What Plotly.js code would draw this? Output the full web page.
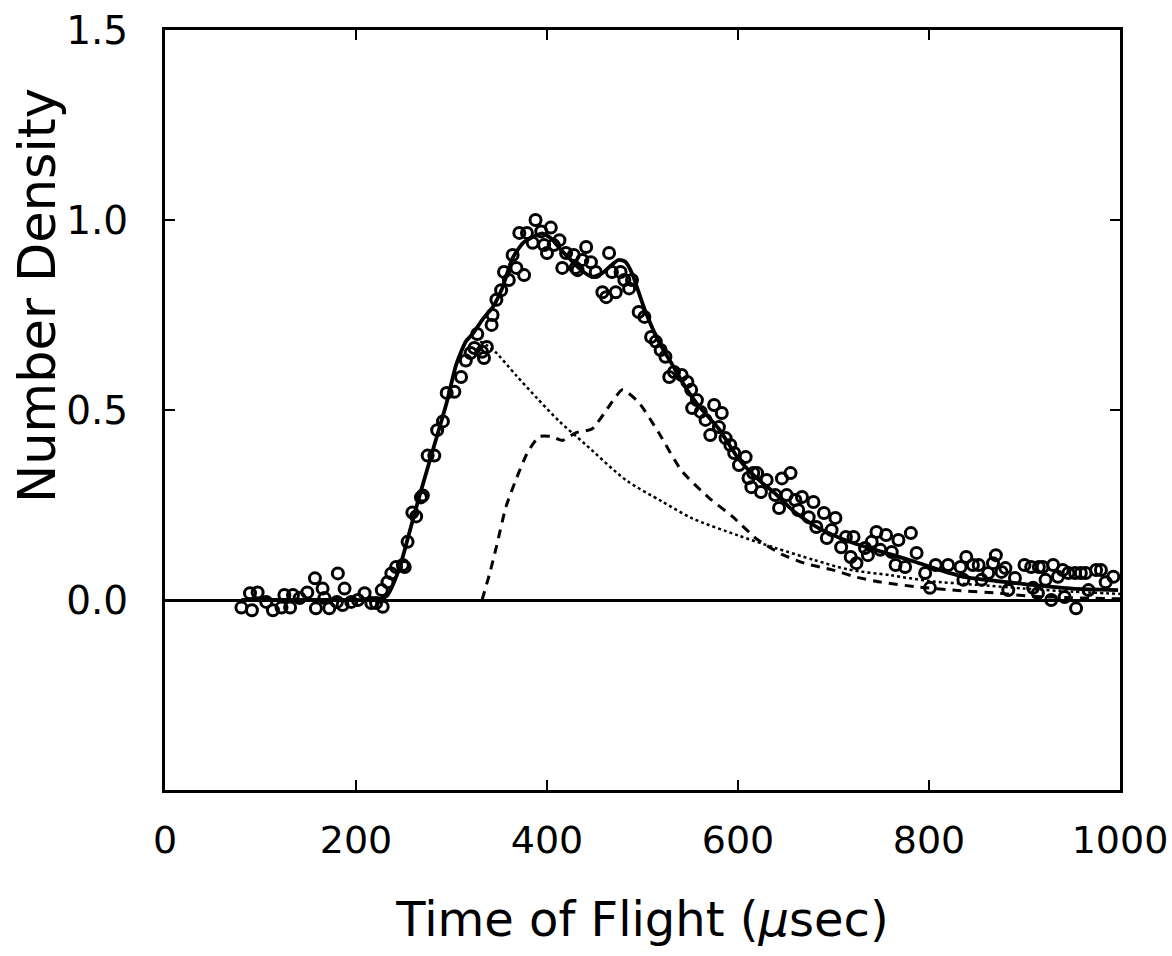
<!DOCTYPE html>
<html>
<head>
<meta charset="utf-8">
<script src="https://cdn.plot.ly/plotly-3.0.1.min.js"></script>
<style>html,body{margin:0;padding:0;background:#fff;}#chart{width:1172px;height:956px;}</style>
</head>
<body>
<div id="chart"></div>
<script>
// Measured data points (open circles)
const dataX = [80,89,91,97,106,113,122,125,131,134,141,149,157,158,165,167,172,180,181,186,188,195,202,209,216,221,227,228,233,237,242,249,251,254,259,263,268,270,275,282,285,291,295,303,310,315,320,324,327,332,334,337,342,343,347,352,355,360,364,368,371,376,379,385,388,394,397,400,404,407,413,416,420,428,430,432,437,441,446,451,458,462,465,468,472,477,481,486,489,496,502,509,514,519,524,528,533,541,547,551,552,557,561,566,571,575,580,583,587,592,596,601,608,611,614,616,620,624,630,639,643,646,651,655,660,663,667,674,679,682,690,693,698,702,708,713,718,721,724,733,736,740,745,749,755,761,765,768,775,781,787,796,801,807,820,833,836,839,846,852,855,862,867,870,876,880,883,890,900,907,909,914,915,919,922,928,930,935,940,942,946,953,954,959,964,967,975,980,985,993];
const dataY = [-0.02,0.018,-0.027,0.02,-0.005,-0.027,-0.02,0.013,-0.02,0.013,0.005,0.02,0.057,-0.022,0.03,0.005,-0.022,-0.005,0.07,-0.013,0.03,-0.005,0,0.018,-0.008,-0.008,0.026,-0.018,0.047,0.07,0.087,0.092,0.087,0.153,0.23,0.22,0.27,0.275,0.38,0.38,0.447,0.47,0.545,0.548,0.587,0.63,0.65,0.663,0.70,0.653,0.637,0.666,0.724,0.75,0.79,0.815,0.863,0.842,0.908,0.874,0.966,0.855,0.966,0.94,1.0,0.97,0.934,0.913,0.98,0.934,0.947,0.874,0.913,0.908,0.874,0.868,0.895,0.929,0.889,0.863,0.81,0.797,0.913,0.863,0.81,0.863,0.842,0.82,0.842,0.758,0.745,0.692,0.68,0.658,0.64,0.587,0.6,0.592,0.574,0.553,0.505,0.526,0.495,0.474,0.434,0.513,0.455,0.492,0.426,0.408,0.387,0.355,0.376,0.321,0.297,0.334,0.334,0.284,0.316,0.276,0.242,0.32,0.276,0.334,0.263,0.237,0.271,0.218,0.258,0.192,0.229,0.163,0.184,0.216,0.139,0.166,0.113,0.166,0.097,0.137,0.118,0.153,0.179,0.132,0.171,0.126,0.092,0.158,0.087,0.176,0.124,0.071,0.032,0.092,0.092,0.087,0.053,0.113,0.092,0.092,0.053,0.071,0.097,0.118,0.074,0.084,0.026,0.058,0.092,0.087,0.032,0.018,0.087,0.087,0.053,0,0.092,0.061,0.079,0.008,0.071,0.071,-0.022,0.071,0.071,0.026,0.079,0.079,0.047,0.061];

// Total fit (solid)
const fitX = [80,100,150,200,220,232,245,254,266,280,295,305,315,322,333,343,353,364,375,385,395,405,415,423,435,447,458,467,475,482,489,496,503,517,531,545,559,580,601,620,639,660,684,710,733,760,786,810,838,870,907,950,998];
const fitY = [0,0,0,0,0,0.01,0.08,0.16,0.27,0.39,0.52,0.62,0.68,0.70,0.74,0.77,0.82,0.90,0.94,0.955,0.965,0.95,0.92,0.90,0.87,0.85,0.86,0.88,0.895,0.89,0.86,0.81,0.76,0.68,0.62,0.56,0.51,0.45,0.37,0.32,0.28,0.23,0.19,0.16,0.14,0.12,0.10,0.08,0.06,0.05,0.04,0.03,0.026];

// Component 1 (dotted)
const dotX = [330,343,368,390,413,440,483,520,552,600,639,680,716,760,800,850,900,950,1000];
const dotY = [0.68,0.66,0.59,0.53,0.47,0.41,0.315,0.26,0.215,0.17,0.137,0.105,0.08,0.065,0.05,0.04,0.03,0.022,0.016];

// Component 2 (dashed)
const dashX = [332,340,347,357,368,380,392,405,416,430,447,465,479,496,517,541,569,594,620,646,672,698,724,750,786,830,872,907,950,1000];
const dashY = [0,0.07,0.14,0.245,0.32,0.39,0.43,0.43,0.42,0.44,0.45,0.51,0.553,0.52,0.44,0.34,0.27,0.22,0.16,0.12,0.095,0.08,0.06,0.047,0.035,0.025,0.018,0.01,0.006,0.003];

const xTicks = [0,200,400,600,800,1000];
const xTickText = ['0','200','400','600','800','1000'];
const yTicks = [0,0.5,1.0,1.5];
const yTickText = ['0.0','0.5','1.0','1.5'];

const FONT = 'DejaVu Sans';

const traces = [
  {x: dotX, y: dotY, mode: 'lines', line: {color: '#000', width: 2.5, dash: 'dot', shape: 'spline', smoothing: 0.8}, hoverinfo: 'skip'},
  {x: dashX, y: dashY, mode: 'lines', line: {color: '#000', width: 3, dash: '9px,7px', shape: 'spline', smoothing: 0.6}},
  {x: fitX, y: fitY, mode: 'lines', line: {color: '#000', width: 3.8, shape: 'spline', smoothing: 0.6}},
  {x: dataX, y: dataY, mode: 'markers', marker: {symbol: 'circle-open', size: 11, color: '#000', line: {width: 3, color: '#000'}}}
];

const layout = {
  width: 1172, height: 956,
  margin: {l: 165, r: 52, t: 30, b: 166},
  paper_bgcolor: '#fff', plot_bgcolor: '#fff',
  showlegend: false,
  font: {family: FONT, color: '#000', size: 38},
  xaxis: {
    range: [0, 1000], tickvals: xTicks, ticktext: xTickText,
    ticks: 'inside', ticklen: 10, tickwidth: 2, tickcolor: '#000',
    showline: true, linewidth: 3, linecolor: '#000', mirror: 'allticks',
    showgrid: false, zeroline: false,
    ticklabelstandoff: 14, ticklabeloverflow: 'allow',
    tickfont: {family: FONT, size: 38, color: '#000'},
    title: {text: 'Time of Flight (<i>μ</i>sec)', font: {family: FONT, size: 48, color: '#000'}, standoff: 42}
  },
  yaxis: {
    range: [-0.5, 1.5], tickvals: yTicks, ticktext: yTickText,
    ticks: 'inside', ticklen: 10, tickwidth: 2, tickcolor: '#000',
    showline: true, linewidth: 3, linecolor: '#000', mirror: 'allticks',
    showgrid: false, zeroline: true, zerolinecolor: '#000', zerolinewidth: 3,
    ticklabelstandoff: 26, ticklabeloverflow: 'allow',
    tickfont: {family: FONT, size: 39, color: '#000'}
  },
  annotations: [{
    text: 'Number Density', textangle: -90,
    xref: 'paper', yref: 'y', x: 0, y: 0.8,
    xanchor: 'center', yanchor: 'middle', xshift: -128,
    showarrow: false, font: {family: FONT, size: 51, color: '#000'}
  }]
};

Plotly.newPlot('chart', traces, layout, {displayModeBar: false, staticPlot: true});
</script>
</body>
</html>
